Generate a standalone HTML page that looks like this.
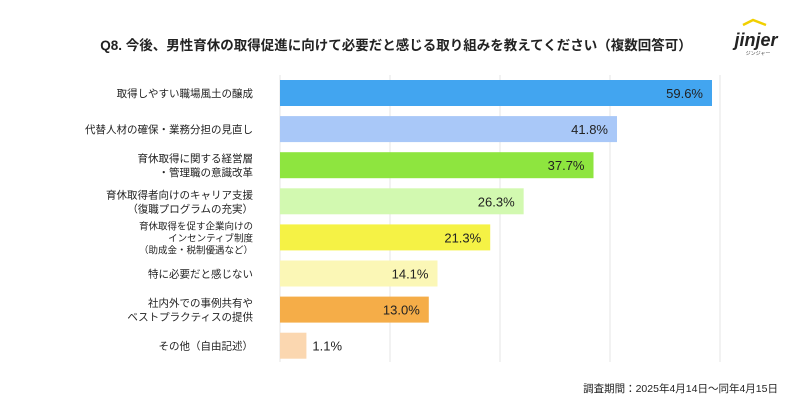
<!DOCTYPE html>
<html><head><meta charset="utf-8">
<style>
body{margin:0;background:#fff;font-family:"Liberation Sans","Noto Sans CJK JP",sans-serif;}
#wrap{position:relative;width:800px;height:420px;overflow:hidden;}
</style></head>
<body>
<div id="wrap">
<svg id="chart" width="800" height="420" xmlns="http://www.w3.org/2000/svg">
<text x="396" y="50" text-anchor="middle" font-size="13.5" font-weight="bold" fill="#222" font-family="Liberation Sans, Noto Sans CJK JP, sans-serif">Q8. 今後、男性育休の取得促進に向けて必要だと感じる取り組みを教えてください（複数回答可）</text>
<g>
<path d="M743 25 L753 20 L766 25" stroke="#f1d000" stroke-width="2.5" fill="none"/>
<text x="756" y="46" text-anchor="middle" font-size="18" font-weight="bold" font-style="italic" fill="#222" font-family="Liberation Sans, sans-serif">jinjer</text>
<text x="758" y="55" text-anchor="middle" font-size="5" fill="#444" font-family="Noto Sans CJK JP, sans-serif">ジンジャー</text>
</g>
<g id="grid"></g>
<g id="bars"></g>
<text x="778" y="392" text-anchor="end" font-size="10.5" fill="#222" font-family="Liberation Sans, Noto Sans CJK JP, sans-serif">調査期間：2025年4月14日〜同年4月15日</text>
</svg>
</div>
<script>
const categories=[["取得しやすい職場風土の醸成"],["代替人材の確保・業務分担の見直し"],["育休取得に関する経営層","・管理職の意識改革"],["育休取得者向けのキャリア支援","（復職プログラムの充実）"],["育休取得を促す企業向けの","インセンティブ制度","（助成金・税制優遇など）"],["特に必要だと感じない"],["社内外での事例共有や","ベストプラクティスの提供"],["その他（自由記述）"]];
const values=[59.6,41.8,37.7,26.3,21.3,14.1,13.0,1.1];
const colors=["#42a5f0","#a9c8f8","#8ee53f","#d2f9b0","#f5f245","#fbf7b6","#f5ad48","#fbd7b0"];
const gridTicks=[0,1,2,3,4];
const NS="http://www.w3.org/2000/svg";
const x0=280,xMax=59.6,wMax=432;
function xScale(v){return x0+wMax*Math.pow(v/xMax,0.7);}
function yScale(i){return 93+i*36.1;}
const grid=document.getElementById('grid'),bars=document.getElementById('bars');
gridTicks.forEach(t=>{
 const l=document.createElementNS(NS,'line');
 l.setAttribute('x1',x0+t*110);l.setAttribute('x2',x0+t*110);
 l.setAttribute('y1',75);l.setAttribute('y2',362);
 l.setAttribute('stroke','#e4e4e4');l.setAttribute('stroke-width','1');
 
 
 grid.appendChild(l);
});
values.forEach((v,i)=>{
 const cy=yScale(i),xe=xScale(v);
 const r=document.createElementNS(NS,'rect');
 r.setAttribute('x',x0);r.setAttribute('y',cy-13);r.setAttribute('width',xe-x0);r.setAttribute('height',26);
 r.setAttribute('fill',colors[i]);
 
 
 bars.appendChild(r);
 const t=document.createElementNS(NS,'text');
 const inside=(xe-x0)>60;
 t.setAttribute('x',inside?xe-9:xe+6);t.setAttribute('y',cy+5);
 t.setAttribute('text-anchor',inside?'end':'start');
 t.setAttribute('font-size','13');t.setAttribute('fill','#222');
 t.textContent=v.toFixed(1)+'%';
 
 
 bars.appendChild(t);
 const lines=categories[i];
 const fs=lines.length>2?9.5:10.5, lh=lines.length>2?12:14;
 const tl=document.createElementNS(NS,'text');
 tl.setAttribute('text-anchor','end');tl.setAttribute('font-size',fs);tl.setAttribute('fill','#222');
 
 
 lines.forEach((s,k)=>{
  const ts=document.createElementNS(NS,'tspan');
  ts.setAttribute('x',253);
  ts.setAttribute('y',cy+4+(k-(lines.length-1)/2)*lh);
  ts.textContent=s;tl.appendChild(ts);
 });
 bars.appendChild(tl);
});
</script>
</body></html>
